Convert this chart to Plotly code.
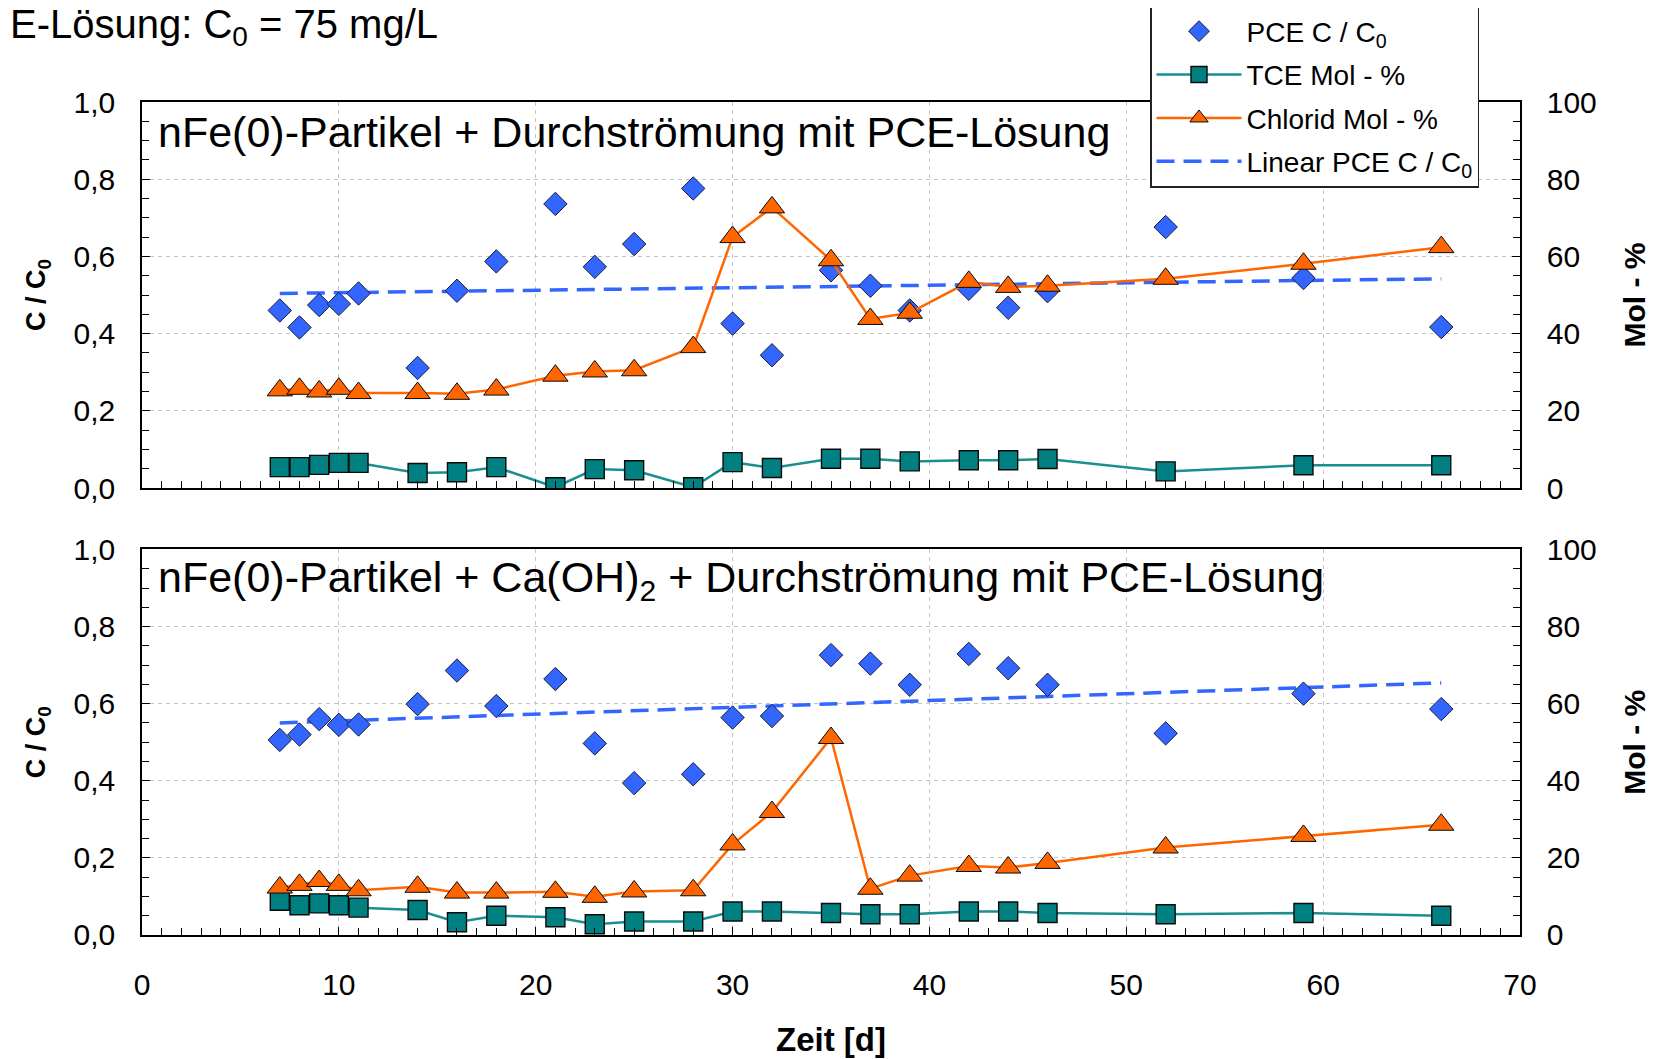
import plotly.graph_objects as go

# ---------------- data ----------------
days = [7, 8, 9, 10, 11, 14, 16, 18, 21, 23, 25, 28, 30, 32, 35, 37, 39, 42, 44, 46, 52, 59, 66]

# top panel: nFe(0)-Partikel + Durchströmung mit PCE-Lösung
pce_top = [0.46, 0.416, 0.474, 0.477, 0.504, 0.311, 0.511, 0.587, 0.736, 0.573, 0.632, 0.776,
           0.426, 0.344, 0.564, 0.524, 0.46, 0.516, 0.467, 0.51, 0.676, 0.544, 0.417]
tce_top = [5.4, 5.4, 6.0, 6.5, 6.5, 3.9, 4.1, 5.4, 0.2, 4.9, 4.6, 0.2,
           6.7, 5.2, 7.6, 7.6, 6.9, 7.2, 7.2, 7.5, 4.3, 5.9, 5.9]
chlorid_top = [25.3, 25.7, 25.0, 25.7, 24.6, 24.6, 24.4, 25.5, 29.1, 30.2, 30.5, 36.5,
               65.0, 72.7, 59.0, 43.8, 45.4, 53.4, 52.1, 52.4, 54.2, 58.1, 62.4]
lin_x_top = [7, 66]
lin_y_top = [0.504, 0.542]

# bottom panel: nFe(0)-Partikel + Ca(OH)2 + Durchströmung mit PCE-Lösung
pce_bot = [0.506, 0.52, 0.56, 0.545, 0.546, 0.599, 0.686, 0.594, 0.664, 0.497, 0.394, 0.417,
           0.564, 0.568, 0.726, 0.704, 0.649, 0.729, 0.692, 0.649, 0.523, 0.626, 0.586]
tce_bot = [8.9, 7.7, 8.2, 7.7, 7.1, 6.5, 3.3, 5.0, 4.6, 2.8, 3.5, 3.5,
           6.1, 6.1, 5.7, 5.4, 5.4, 6.1, 6.1, 5.7, 5.4, 5.7, 5.0]
chlorid_bot = [12.3, 13.0, 14.0, 13.0, 11.6, 12.5, 11.0, 11.0, 11.2, 9.9, 11.3, 11.6,
               23.5, 31.9, 51.1, 12.0, 15.4, 17.9, 17.5, 18.7, 22.7, 25.7, 28.6]
lin_x_bot = [7, 66]
lin_y_bot = [0.55, 0.654]

left_ticks = [0, 0.2, 0.4, 0.6, 0.8, 1.0]
left_ticklabels = ["0,0", "0,2", "0,4", "0,6", "0,8", "1,0"]
right_ticks = [0, 20, 40, 60, 80, 100]
x_ticks = [0, 10, 20, 30, 40, 50, 60, 70]

# ---------------- styles ----------------
BLUE = "#3366FF"
TEAL = "#008080"
TEAL_LINE = "#1A8F8F"
ORANGE = "#FF6600"
FONT = "Liberation Sans, Arial, sans-serif"
GRID = "#C4C4C4"

fig = go.Figure()

def add_panel(xa, ya, ya2, pce, tce, chl, lx, ly, show):
    fig.add_trace(go.Scatter(
        x=lx, y=ly, mode="lines", name="Linear PCE C / C<sub>0</sub>",
        line=dict(color=BLUE, width=3.5, dash="18px,9px"), legendgroup="lin",
        xaxis=xa, yaxis=ya, showlegend=show, legendrank=4))
    fig.add_trace(go.Scatter(
        x=days, y=pce, mode="markers", name="PCE C / C<sub>0</sub>",
        marker=dict(symbol="diamond", size=18, color=BLUE,
                    line=dict(color="#1a1a3a", width=1)), legendgroup="pce",
        xaxis=xa, yaxis=ya, showlegend=show, legendrank=1))
    fig.add_trace(go.Scatter(
        x=days, y=tce, mode="lines+markers", name="TCE Mol - %",
        line=dict(color=TEAL_LINE, width=2.5), legendgroup="tce",
        marker=dict(symbol="square", size=19, color=TEAL,
                    line=dict(color="#0a0a0a", width=1.4)),
        xaxis=xa, yaxis=ya2, showlegend=show, legendrank=2))
    fig.add_trace(go.Scatter(
        x=days, y=chl, mode="lines+markers", name="Chlorid Mol - %",
        line=dict(color=ORANGE, width=2.5), legendgroup="chl",
        marker=dict(symbol="triangle-up", size=22, color=ORANGE,
                    line=dict(color="#0a0a0a", width=1)),
        xaxis=xa, yaxis=ya2, showlegend=show, legendrank=3))

add_panel("x", "y", "y2", pce_top, tce_top, chlorid_top, lin_x_top, lin_y_top, True)
add_panel("x2", "y3", "y4", pce_bot, tce_bot, chlorid_bot, lin_x_bot, lin_y_bot, False)

tickfont = dict(family=FONT, size=30, color="black")

def xaxis_cfg(anchor, labels):
    return dict(
        domain=[0, 1], anchor=anchor, range=[0, 70],
        tickvals=x_ticks, showticklabels=labels, tickfont=tickfont,
        ticks="inside", ticklen=8, tickcolor="black", tickwidth=1,
        minor=dict(dtick=1, ticks="inside", ticklen=7, tickcolor="black", showgrid=False),
        showline=True, linecolor="black", linewidth=2, mirror=True,
        showgrid=True, gridcolor=GRID, griddash="4px,4px", gridwidth=1,
        zeroline=False, ticklabelstandoff=22, automargin=False,
    )

def yleft_cfg(domain, anchor):
    return dict(
        domain=domain, anchor=anchor, range=[0, 1], side="left",
        tickvals=left_ticks, ticktext=left_ticklabels, tickfont=tickfont,
        ticks="inside", ticklen=8, tickcolor="black",
        minor=dict(dtick=0.05, ticks="inside", ticklen=7, tickcolor="black", showgrid=False),
        showline=True, linecolor="black", linewidth=1.5,
        showgrid=True, gridcolor=GRID, griddash="4px,4px", gridwidth=1,
        zeroline=False, ticklabelstandoff=19, automargin=False,
        title=dict(text="<b>C / C<sub>0</sub></b>",
                   font=dict(family=FONT, size=27, color="black"), standoff=20),
    )

def yright_cfg(overlay, anchor):
    return dict(
        overlaying=overlay, anchor=anchor, side="right", range=[0, 100],
        tickvals=right_ticks, tickfont=tickfont,
        ticks="inside", ticklen=8, tickcolor="black",
        minor=dict(dtick=5, ticks="inside", ticklen=7, tickcolor="black", showgrid=False),
        showline=True, linecolor="black", linewidth=1.5,
        showgrid=False, zeroline=False, ticklabelstandoff=19, automargin=False,
        title=dict(text="<b>Mol - %</b>",
                   font=dict(family=FONT, size=30, color="black"), standoff=28),
    )

top_domain = [0.5366, 1.0]
bot_domain = [0.0, 0.4628]

xa2 = xaxis_cfg("y3", True)
xa2["title"] = dict(text="<b>Zeit [d]</b>", font=dict(family=FONT, size=33, color="black"), standoff=28)

# page body has an 8px default margin: figure sized to fit the 1657x1059 window
fig.update_layout(
    width=1649, height=1051,
    margin=dict(l=134, r=137, t=94, b=124, autoexpand=False),
    paper_bgcolor="white", plot_bgcolor="white",
    font=dict(family=FONT, color="black"),
    xaxis=xaxis_cfg("y", False),
    xaxis2=xa2,
    yaxis=yleft_cfg(top_domain, "x"),
    yaxis2=yright_cfg("y", "x"),
    yaxis3=yleft_cfg(bot_domain, "x2"),
    yaxis4=yright_cfg("y3", "x2"),
    legend=dict(
        x=0.7315, y=1.1165, xanchor="left", yanchor="top",
        bgcolor="white", bordercolor="#222222", borderwidth=1.5,
        font=dict(family=FONT, size=28, color="black"),
        itemwidth=85, tracegroupgap=4,
    ),
    showlegend=True,
)

fig.add_annotation(
    text="E-Lösung: C<sub>0</sub> = 75 mg/L", xref="paper", yref="paper",
    x=-134 / 1378, xanchor="left", y=(935 - 27) / 833, yanchor="middle",
    showarrow=False, font=dict(family=FONT, size=40, color="black"))

fig.add_annotation(
    text="nFe(0)-Partikel + Durchströmung mit PCE-Lösung", xref="paper", yref="paper",
    x=(156 - 142) / 1378, xanchor="left", y=(935 - 132) / 833, yanchor="middle",
    showarrow=False, font=dict(family=FONT, size=43, color="black"))

fig.add_annotation(
    text="nFe(0)-Partikel + Ca(OH)<sub>2</sub> + Durchströmung mit PCE-Lösung", xref="paper", yref="paper",
    x=(156 - 142) / 1378, xanchor="left", y=(935 - 580) / 833, yanchor="middle",
    showarrow=False, font=dict(family=FONT, size=43, color="black"))

fig.write_html("out.html")
